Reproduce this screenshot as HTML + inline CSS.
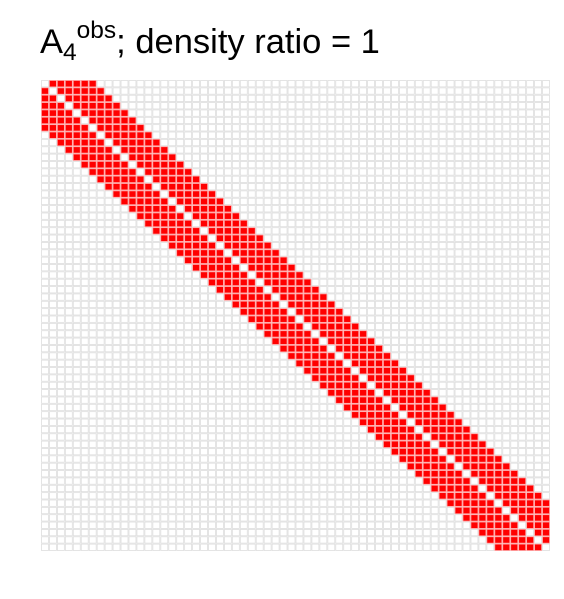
<!DOCTYPE html>
<html><head><meta charset="utf-8"><style>
body{margin:0;background:#fff;width:564px;height:594px;overflow:hidden;font-family:"Liberation Sans",sans-serif}
</style></head><body>
<svg id="chart" width="564" height="594" xmlns="http://www.w3.org/2000/svg">
<text x="40" y="53" font-family="Liberation Sans, sans-serif" font-size="34.5" fill="#000">A<tspan font-size="24.5" dy="7">4</tspan><tspan font-size="24.5" dy="-22">obs</tspan><tspan dy="15">; density ratio = 1</tspan></text>
<g id="cells"></g>
</svg>
<script>
const nodes = 64;
const bandOffsets = [1,2,3,4,5,6];
const x0=41, y0=80, W=509, H=471;
const cw=W/nodes, ch=H/nodes;
const g=document.getElementById('cells');
const ns='http://www.w3.org/2000/svg';
function xs(j){return x0+j*cw;}
function ys(i){return y0+i*ch;}
for(let i=0;i<nodes;i++){for(let j=0;j<nodes;j++){
  const on=bandOffsets.includes(Math.abs(i-j));
  const r=document.createElementNS(ns,'rect');
  r.setAttribute('x',xs(j)+0.5);r.setAttribute('y',ys(i)+0.5);
  r.setAttribute('width',cw-1);r.setAttribute('height',ch-1);
  r.setAttribute('fill',on?'#ff0000':'#ffffff');
  r.setAttribute('stroke',on?'#ff9a9a':'#dedede');r.setAttribute('stroke-width','0.8');
  
  
  g.appendChild(r);
}}
</script>
</body></html>
